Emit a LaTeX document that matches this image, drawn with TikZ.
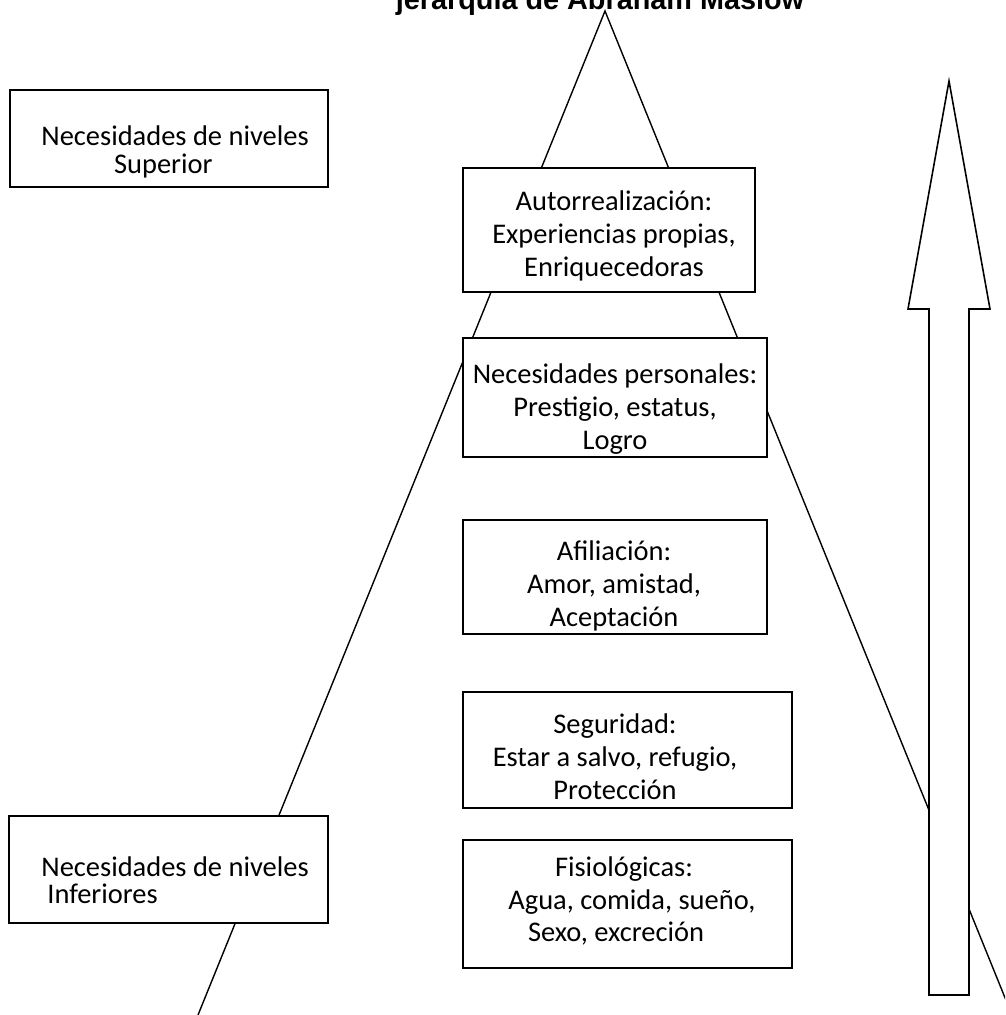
\documentclass[tikz,border=0pt]{standalone}
\usepackage{fontspec}
\setmainfont{Carlito}
\newfontfamily\titlefont{Liberation Sans}
\usepackage{tikz}
\usetikzlibrary{positioning}

\begin{document}
\begin{tikzpicture} [x=0.02cm, y=-0.02cm, line width=0.8pt,
  box/.style={draw, fill=white, line width=0.9pt, inner sep=0pt},
  txt/.style={align=center, inner sep=0pt, font=\fontsize{16.2}{18.7}\selectfont},
  sidetxt/.style={align=left, inner sep=0pt, font=\fontsize{16.2}{15.6}\selectfont}]

\useasboundingbox (0,0) rectangle (1005,1015);
\clip (0,0) rectangle (1005,1015);

%\draw [help lines, step=10](0,0) grid (1005,1015);
\node [anchor=base, inner sep=0pt, font=\titlefont\bfseries\fontsize{16.4}{19}\selectfont] (titulo) at (600,9) {jerarquía de Abraham Maslow};

% piramide
\coordinate (cima) at (605,11);
\coordinate (izq) at (198,1015);
\coordinate (der) at (1012,1015);
\draw (izq) -- (cima) -- (der);

% flecha
\draw [fill=white, line width=0.9pt] (949,81) -- (990,309) -- (969,309) -- (969,995) -- (929,995) -- (929,309) -- (908,309) -- cycle;

% niveles
\node [box, minimum width=6.36cm, minimum height=1.94cm] (superior) at (169,138.5) {};
\node [box, minimum width=6.38cm, minimum height=2.14cm] (inferior) at (168.5,869.5) {};
\node [box, minimum width=5.84cm, minimum height=2.48cm] (autorr) at (609,230) {};
\node [box, minimum width=6.08cm, minimum height=2.38cm] (personal) at (615,397.5) {};
\node [box, minimum width=6.08cm, minimum height=2.28cm] (afil) at (615,577) {};
\node [box, minimum width=6.58cm, minimum height=2.32cm] (segur) at (627.5,750) {};
\node [box, minimum width=6.58cm, minimum height=2.56cm] (fisio) at (627.5,904) {};

\node [sidetxt] (superiortxt) at (175,152) {Necesidades de niveles\\\hspace*{41.4pt}Superior};
\node [sidetxt] (inferiortxt) at (175,880) {Necesidades de niveles\\\hspace*{3.4pt}Inferiores};
\node [txt] (autorrtxt) at (614,236) {Autorrealización:\\Experiencias propias,\\Enriquecedoras};
\node [txt] (personaltxt) at (615,409) {Necesidades personales:\\Prestigio, estatus,\\Logro};
\node [txt] (afiltxt) at (614,586) {Afiliación:\\Amor, amistad,\\Aceptación};
\node [txt] (segurtxt) at (615,757) {Seguridad:\\Estar a salvo, refugio,\\Protección};
\node [txt] (fisiotxt) at (624,901) {Fisiológicas:\\\hspace*{9pt}Agua, comida, sueño,\\Sexo, excreción\hspace*{9pt}};

\end{tikzpicture}
\end{document}
